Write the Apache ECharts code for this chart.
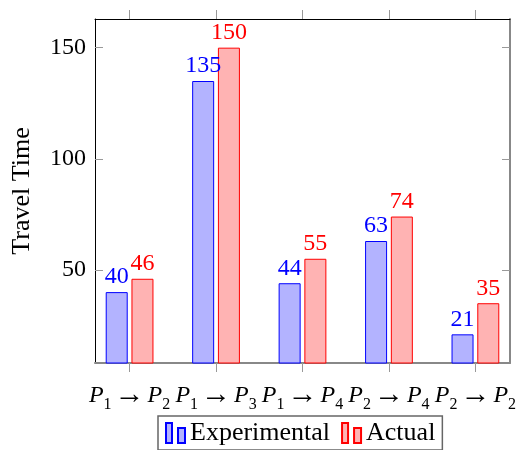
<!DOCTYPE html>
<html>
<head>
<meta charset="utf-8">
<script src="https://cdn.jsdelivr.net/npm/echarts@6/dist/echarts.min.js"></script>
<style>html,body{margin:0;padding:0;background:#fff;}#c{width:523px;height:450px;}</style>
</head>
<body>
<div id="c"></div>
<script>
const fromNodes = ['1', '1', '1', '2', '2'];
const toNodes = ['2', '3', '4', '4', '2'];
const experimental = [40, 135, 44, 63, 21];
const actual = [46, 150, 55, 74, 35];
const yTicks = [50, 100, 150];
const seriesNames = ['Experimental', 'Actual'];

const FONT = 'Liberation Serif';
const xPos = fromNodes.map((_, i) => i);
const expData = experimental.map((v, i) => [i, v]);
const actData = actual.map((v, i) => [i, v]);

const chart = echarts.init(document.getElementById('c'), null, {renderer: 'canvas'});
const legendIcon = 'path://M0,0 H6 V20 H0 Z M12,5 H19 V20 H12 Z';

const option = {
  animation: false,
  backgroundColor: '#fff',
  grid: {left: 95, top: 19, width: 415, height: 344, containLabel: false, outerBoundsMode: 'none'},
  xAxis: [{
    type: 'value', min: -0.4, max: 4.4, position: 'bottom',
    axisLine: {show: true, onZero: false, lineStyle: {color: '#888', width: 2}},
    axisTick: {show: true, inside: false, length: 9, customValues: xPos, lineStyle: {color: '#999', width: 1}},
    splitLine: {show: false},
    axisLabel: {
      show: true, customValues: xPos, margin: 17, hideOverlap: false,
      showMinLabel: true, showMaxLabel: true,
      formatter: function (v) {
        const i = Math.round(v);
        return '{p|P}{s|' + fromNodes[i] + '}{a|\u2192}{p|P}{s|' + toNodes[i] + '}';
      },
      rich: {
        p: {fontFamily: FONT, fontStyle: 'italic', fontSize: 24, color: '#000', verticalAlign: 'bottom', padding: [0, 0, 5, 0]},
        s: {fontFamily: FONT, fontSize: 16, color: '#000', verticalAlign: 'bottom'},
        a: {fontFamily: FONT, fontSize: 30, color: '#000', verticalAlign: 'bottom', padding: [0, 3, 3, 3]}
      }
    }
  }, {
    type: 'value', min: -0.4, max: 4.4, position: 'top',
    axisLine: {show: true, onZero: false, lineStyle: {color: '#000', width: 1}},
    axisTick: {show: true, inside: false, length: 9, customValues: xPos, lineStyle: {color: '#999', width: 1}},
    splitLine: {show: false},
    axisLabel: {show: false}
  }],
  yAxis: [{
    type: 'value', min: 8.1, max: 162.9, position: 'left',
    name: 'Travel Time', nameLocation: 'middle', nameRotate: 90, nameGap: 60, nameMoveOverlap: false,
    nameTextStyle: {fontFamily: FONT, fontSize: 26, color: '#000'},
    axisLine: {show: true, onZero: false, lineStyle: {color: '#000', width: 1}},
    axisTick: {show: true, inside: true, length: 8, customValues: yTicks, lineStyle: {color: '#999', width: 1}},
    splitLine: {show: false},
    axisLabel: {show: true, customValues: yTicks, margin: 9, fontFamily: FONT, fontSize: 24, color: '#000', hideOverlap: false}
  }, {
    type: 'value', min: 8.1, max: 162.9, position: 'right',
    axisLine: {show: true, onZero: false, lineStyle: {color: '#888', width: 2}},
    axisTick: {show: true, inside: true, length: 8, customValues: yTicks, lineStyle: {color: '#999', width: 1}},
    splitLine: {show: false},
    axisLabel: {show: false}
  }],
  legend: {
    show: true, left: 158, top: 416, orient: 'horizontal',
    padding: [4, 7, 4, 7], itemGap: 11, itemWidth: 19, itemHeight: 20,
    borderColor: '#666', borderWidth: 1.5, borderRadius: 0,
    textStyle: {fontFamily: FONT, fontSize: 26, color: '#000'},
    data: [{name: seriesNames[0], icon: legendIcon}, {name: seriesNames[1], icon: legendIcon}]
  },
  series: [{
    name: seriesNames[0], type: 'bar', xAxisIndex: 0, yAxisIndex: 0,
    data: expData, barWidth: 22, barGap: '17%',
    itemStyle: {color: '#b3b3ff', borderColor: '#0000ff', borderWidth: 1},
    label: {show: true, position: 'top', distance: 3, fontFamily: FONT, fontSize: 24, color: '#0000ff'}
  }, {
    name: seriesNames[1], type: 'bar', xAxisIndex: 0, yAxisIndex: 0,
    data: actData, barWidth: 22, barGap: '17%',
    itemStyle: {color: '#ffb3b3', borderColor: '#ff0000', borderWidth: 1},
    label: {show: true, position: 'top', distance: 3, fontFamily: FONT, fontSize: 24, color: '#ff0000'}
  }]
};
chart.setOption(option);
</script>
</body>
</html>
